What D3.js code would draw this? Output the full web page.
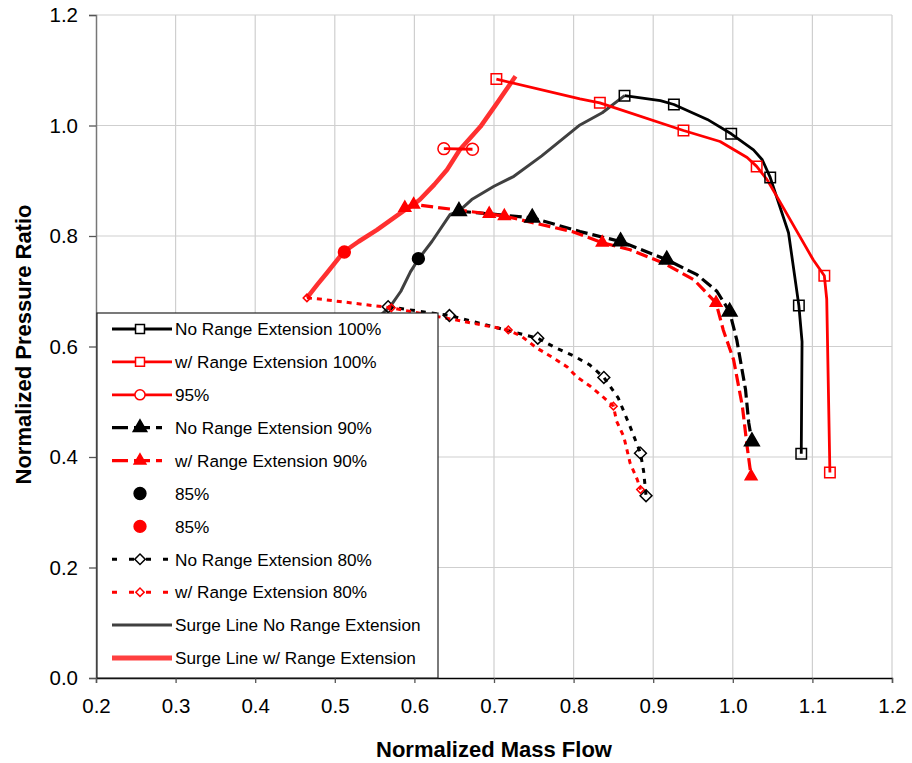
<!DOCTYPE html>
<html>
<head>
<meta charset="utf-8">
<script src="https://cdn.jsdelivr.net/npm/d3@7"></script>
<style>
  body { margin: 0; background: #fff; }
  text { font-family: "Liberation Sans", Arial, sans-serif; }
</style>
</head>
<body>
<div class="chart"></div>
<script>
// ticks
const xTicks = [0.2, 0.3, 0.4, 0.5, 0.6, 0.7, 0.8, 0.9, 1.0, 1.1, 1.2];
const yTicks = [0.0, 0.2, 0.4, 0.6, 0.8, 1.0, 1.2];

// 100% speed line, no range extension
const noExt100 = [[0.864,1.054],[0.909,1.045],[0.926,1.038],[0.968,1.011],[0.998,0.985],[1.026,0.956],
  [1.037,0.938],[1.047,0.906],[1.070,0.806],[1.083,0.674],[1.087,0.609],[1.086,0.406]];
const noExt100Marks = [[0.864,1.054],[0.926,1.038],[0.998,0.985],[1.047,0.906],[1.083,0.674],[1.086,0.406]];

// 100% speed line, with range extension
const ext100 = [[0.703,1.084],[0.808,1.048],[0.833,1.041],[0.938,0.991],[0.984,0.971],[1.018,0.942],
  [1.030,0.926],[1.043,0.902],[1.060,0.860],[1.101,0.757],[1.115,0.728],[1.118,0.686],[1.122,0.372]];
const ext100Marks = [[0.703,1.084],[0.833,1.041],[0.938,0.991],[1.030,0.926],[1.115,0.728],[1.122,0.372]];

// 95%
const ext95 = [[0.637,0.958],[0.673,0.957]];

// 90%
const noExt90 = [[0.656,0.845],[0.748,0.833],[0.808,0.808],[0.859,0.790],[0.917,0.757],[0.955,0.730],
  [0.980,0.700],[0.996,0.663],[1.005,0.612],[1.016,0.522],[1.020,0.462],[1.024,0.428]];
const noExt90Marks = [[0.656,0.845],[0.748,0.833],[0.859,0.790],[0.917,0.757],[0.996,0.663],[1.024,0.428]];
const ext90 = [[0.588,0.851],[0.599,0.857],[0.694,0.840],[0.713,0.836],[0.798,0.808],[0.836,0.788],
  [0.871,0.775],[0.913,0.751],[0.951,0.721],[0.979,0.679],[0.988,0.630],[1.001,0.576],[1.012,0.492],
  [1.018,0.419],[1.023,0.365]];
const ext90Marks = [[0.588,0.851],[0.599,0.857],[0.694,0.840],[0.713,0.836],[0.836,0.788],[0.979,0.679],[1.023,0.365]];

// 85%
const noExt85 = [[0.605,0.759]];
const ext85 = [[0.512,0.771]];

// 80%
const noExt80 = [[0.567,0.672],[0.644,0.656],[0.755,0.615],[0.777,0.598],[0.800,0.583],[0.820,0.567],
  [0.838,0.544],[0.856,0.507],[0.871,0.455],[0.884,0.407],[0.888,0.374],[0.891,0.330]];
const noExt80Marks = [[0.567,0.672],[0.644,0.656],[0.755,0.615],[0.838,0.544],[0.884,0.407],[0.891,0.330]];
const ext80 = [[0.465,0.688],[0.486,0.685],[0.571,0.670],[0.718,0.630],[0.735,0.618],[0.754,0.597],
  [0.775,0.579],[0.792,0.563],[0.804,0.545],[0.821,0.528],[0.836,0.510],[0.850,0.492],[0.854,0.465],
  [0.863,0.437],[0.871,0.389],[0.880,0.359],[0.884,0.341]];
const ext80Marks = [[0.465,0.688],[0.571,0.670],[0.718,0.630],[0.850,0.492],[0.884,0.341]];

// surge lines
const surgeNoExt = [[0.557,0.656],[0.570,0.673],[0.583,0.700],[0.595,0.735],[0.605,0.758],[0.622,0.790],
  [0.645,0.839],[0.656,0.845],[0.672,0.866],[0.700,0.890],[0.725,0.908],[0.760,0.945],[0.808,1.001],
  [0.836,1.023],[0.864,1.054]];
const surgeExt = [[0.465,0.688],[0.478,0.712],[0.490,0.733],[0.511,0.771],[0.530,0.790],[0.553,0.811],
  [0.586,0.845],[0.599,0.857],[0.607,0.866],[0.625,0.893],[0.641,0.920],[0.657,0.956],[0.683,0.998],
  [0.704,1.041],[0.727,1.089]];

const legendLabels = ["No Range Extension 100%", "w/ Range Extension 100%", "95%", "No Range Extension 90%",
  "w/ Range Extension 90%", "85%", "85%", "No Range Extension 80%", "w/ Range Extension 80%",
  "Surge Line No Range Extension", "Surge Line w/ Range Extension"];

const W = 912, H = 763;
const margin = { top: 15, left: 96, right: 20, bottom: 85 };
const width = W - margin.left - margin.right;
const height = H - margin.top - margin.bottom;

const svg = d3.select(".chart")
  .append("svg")
  .attr("width", W)
  .attr("height", H)
  .append("g")
  .attr("transform", `translate(${margin.left}, ${margin.top})`);

const xScale = d3.scaleLinear().domain([0.2, 1.2]).range([0, width]);
const yScale = d3.scaleLinear().domain([0, 1.2]).range([height, 0]);

// grid
svg.append("g").selectAll("line.gx")
  .data(xTicks.slice(1))
  .join("line")
  .attr("x1", d => xScale(d)).attr("x2", d => xScale(d))
  .attr("y1", 0).attr("y2", height)
  .attr("stroke", "#cfcfcf").attr("stroke-width", 1.2);
svg.append("g").selectAll("line.gy")
  .data(yTicks.slice(1))
  .join("line")
  .attr("x1", 0).attr("x2", width)
  .attr("y1", d => yScale(d)).attr("y2", d => yScale(d))
  .attr("stroke", "#cfcfcf").attr("stroke-width", 1.2);

// axes
const xAxis = d3.axisBottom(xScale).tickValues(xTicks).tickFormat(d3.format(".1f")).tickSize(5).tickPadding(15);
const yAxis = d3.axisLeft(yScale).tickValues(yTicks).tickFormat(d3.format(".1f")).tickSize(7).tickPadding(11);

const gx = svg.append("g").attr("transform", `translate(0,${height})`).call(xAxis);
const gy = svg.append("g").call(yAxis);
gx.select(".domain").attr("stroke", "#000").attr("stroke-width", 1.3);
gy.select(".domain").attr("stroke", "#777").attr("stroke-width", 1.5);
gx.selectAll(".tick line").attr("stroke", "#555").attr("stroke-width", 1.3);
gy.selectAll(".tick line").attr("stroke", "#555").attr("stroke-width", 1.3);
svg.selectAll(".tick text")
  .attr("font-family", "Liberation Sans, Arial, sans-serif")
  .attr("font-size", 20.5).attr("fill", "#000");

svg.append("text")
  .attr("x", xScale(0.7)).attr("y", height + 79)
  .attr("text-anchor", "middle")
  .attr("font-size", 22).attr("font-weight", "bold")
  .text("Normalized Mass Flow");
svg.append("text")
  .attr("transform", `translate(${31 - margin.left}, ${yScale(0.6) - 2}) rotate(-90)`)
  .attr("text-anchor", "middle")
  .attr("font-size", 22).attr("font-weight", "bold")
  .text("Normalized Pressure Ratio");

const line = d3.line().x(d => xScale(d[0])).y(d => yScale(d[1]));

const sym = (type, size) => d3.symbol().type(type).size(size)();

// series table built from the arrays above
const series = [
  { line: surgeNoExt, stroke: "#404040", w: 3 },
  { line: surgeExt, stroke: "#ff3030", w: 4.5 },
  { line: noExt100, marks: noExt100Marks, stroke: "#000", w: 2.8, sym: d3.symbolSquare, size: 110, fill: "none" },
  { line: ext100, marks: ext100Marks, stroke: "#ff0000", w: 2.8, sym: d3.symbolSquare, size: 110, fill: "none" },
  { line: ext95, marks: ext95, stroke: "#ff0000", w: 2.8, sym: d3.symbolCircle, size: 110, fill: "none" },
  { line: noExt90, marks: noExt90Marks, stroke: "#000", w: 3.2, dash: "12,5", sym: d3.symbolTriangle, size: 95, fill: "#000" },
  { line: ext90, marks: ext90Marks, stroke: "#ff0000", w: 3.2, dash: "12,5", sym: d3.symbolTriangle, size: 60, fill: "#ff0000" },
  { line: noExt80, marks: noExt80Marks, stroke: "#000", w: 3, dash: "5,6", sym: d3.symbolSquare, size: 70, fill: "none", rot: 45 },
  { line: ext80, marks: ext80Marks, stroke: "#ff0000", w: 3, dash: "5,5", sym: d3.symbolSquare, size: 28, fill: "none", rot: 45 },
  { marks: noExt85, stroke: "#000", sym: d3.symbolCircle, size: 110, fill: "#000" },
  { marks: ext85, stroke: "#ff0000", sym: d3.symbolCircle, size: 110, fill: "#ff0000" }
];

series.filter(s => s.line).forEach(s => {
  svg.append("path")
    .datum(s.line)
    .attr("fill", "none")
    .attr("stroke", s.stroke)
    .attr("stroke-width", s.w)
    .attr("stroke-dasharray", s.dash || null)
    .attr("stroke-linejoin", "round")
    .attr("d", line);
});

series.filter(s => s.marks).forEach(s => {
  svg.append("g").selectAll("path")
    .data(s.marks)
    .join("path")
    .attr("transform", d => `translate(${xScale(d[0])},${yScale(d[1])}) rotate(${s.rot || 0})`)
    .attr("d", sym(s.sym, s.size))
    .attr("fill", s.fill === "none" ? "#fff" : s.fill)
    .attr("fill-opacity", s.fill === "none" ? 0 : 1)
    .attr("stroke", s.stroke)
    .attr("stroke-width", 1.5);
});

// legend
const legend = svg.append("g").attr("transform", "translate(1, 298)");
legend.append("rect")
  .attr("width", 341).attr("height", height - 298)
  .attr("fill", "#fff").attr("stroke", "#222").attr("stroke-width", 1.2);

const legendRows = [
  { stroke: "#000", w: 2.8, sym: d3.symbolSquare, size: 80, fill: "none" },
  { stroke: "#ff0000", w: 2.8, sym: d3.symbolSquare, size: 80, fill: "none" },
  { stroke: "#ff0000", w: 2.8, sym: d3.symbolCircle, size: 80, fill: "none" },
  { stroke: "#000", w: 3.2, dash: "16,6", len: 50, sym: d3.symbolTriangle, size: 80, fill: "#000" },
  { stroke: "#ff0000", w: 3.2, dash: "16,6", len: 50, sym: d3.symbolTriangle, size: 60, fill: "#ff0000" },
  { noLine: true, stroke: "#000", sym: d3.symbolCircle, size: 110, fill: "#000" },
  { noLine: true, stroke: "#ff0000", sym: d3.symbolCircle, size: 110, fill: "#ff0000" },
  { stroke: "#000", w: 3, dash: "5,12", len: 56, sym: d3.symbolSquare, size: 55, fill: "none", rot: 45 },
  { stroke: "#ff0000", w: 3, dash: "5,12", len: 56, sym: d3.symbolSquare, size: 35, fill: "none", rot: 45 },
  { stroke: "#404040", w: 3 },
  { stroke: "#ff4040", w: 5 }
];

legendRows.forEach((r, i) => {
  const cy = 16 + i * 32.9;
  const row = legend.append("g").attr("transform", `translate(0,${cy})`);
  if (!r.noLine) {
    row.append("line")
      .attr("x1", 15).attr("x2", 15 + (r.len || 60))
      .attr("y1", 0).attr("y2", 0)
      .attr("stroke", r.stroke).attr("stroke-width", r.w)
      .attr("stroke-dasharray", r.dash || null);
  }
  if (r.sym) {
    row.append("path")
      .attr("transform", `translate(43,0) rotate(${r.rot || 0})`)
      .attr("d", sym(r.sym, r.size))
      .attr("fill", r.fill === "none" ? "#fff" : r.fill)
      .attr("stroke", r.stroke).attr("stroke-width", 1.5);
  }
  row.append("text")
    .attr("x", 78).attr("dy", "0.36em")
    .attr("font-size", 17.2)
    .text(legendLabels[i]);
});
</script>
</body>
</html>
